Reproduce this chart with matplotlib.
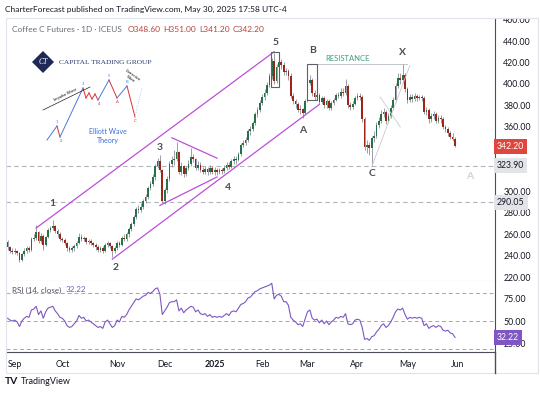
import numpy as np
import pandas as pd
import matplotlib
matplotlib.use('Agg')
import matplotlib.pyplot as plt
import matplotlib.transforms as mtransforms
from matplotlib.patches import Rectangle, Polygon

plt.rcParams['font.family'] = ['Lato', 'DejaVu Sans']

# Coffee C daily candles, 28 Aug 2024 -> 30 May 2025 (open = previous close)
first_open = 253.0
close = [
    248, 245, 244, 245, 243, 236, 242, 245, 247, 246,
    256, 257, 262, 254, 259, 250, 258, 264, 266, 268,
    263, 260, 256, 255, 252, 247, 246, 247, 249, 252,
    258, 256, 257, 253, 254, 252, 250, 248, 246, 247,
    245, 250, 252, 249, 245, 247, 252, 250, 257, 256,
    260, 265, 270, 276, 284, 283, 286, 291, 295, 303,
    307, 313, 324, 328, 320, 291, 301, 312, 326, 329,
    330, 337, 318, 324, 316, 322, 326, 332, 330, 322,
    325, 320, 318, 321, 318, 322, 318, 320, 318, 320,
    319, 322, 325, 323, 328, 330, 329, 335, 343, 345,
    348, 356, 358, 364, 372, 376, 382, 388, 392, 399,
    407, 421, 403, 416, 420, 418, 411, 412, 407, 389,
    384, 381, 376, 377, 373, 384, 401, 404, 392, 388,
    390, 383, 387, 380, 384, 378, 382, 385, 390, 389,
    393, 392, 398, 380, 379, 381, 387, 389, 388, 367,
    341, 343, 340, 350, 352, 362, 366, 372, 374, 366,
    370, 378, 385, 398, 406, 404, 408, 395, 385, 388,
    386, 389, 387, 388, 387, 374, 376, 367, 370, 372,
    366, 368, 367, 360, 358, 354, 351, 348.6, 342.2]
high = [
    255, 249, 247, 247, 246, 244, 243, 247, 249, 249,
    258, 260, 269, 263, 261, 260, 259, 266, 268, 273,
    269, 265, 262, 258, 257, 253, 249, 249, 251, 254,
    261, 260, 259, 258, 256, 256, 253, 252, 250, 249,
    249, 252, 254, 253, 250, 249, 254, 254, 259, 260,
    262, 267, 272, 278, 286, 287, 289, 293, 298, 305,
    310, 316, 326, 331, 334, 321, 303, 314, 328, 333,
    339, 346, 338, 327, 325, 324, 329, 340, 335, 331,
    328, 327, 323, 324, 323, 325, 324, 323, 322, 322,
    322, 325, 327, 327, 330, 333, 333, 337, 345, 348,
    351, 358, 361, 366, 374, 379, 385, 391, 395, 402,
    410, 424, 429, 419, 423, 423, 420, 415, 414, 410,
    392, 386, 383, 380, 378, 386, 403, 408, 406, 394,
    393, 392, 389, 389, 386, 386, 384, 387, 392, 393,
    396, 396, 405, 400, 383, 384, 389, 392, 392, 390,
    369, 348, 346, 352, 356, 365, 369, 376, 378, 376,
    373, 380, 388, 401, 410, 410, 419, 410, 397, 391,
    391, 392, 391, 390, 390, 389, 379, 378, 373, 375,
    374, 371, 371, 369, 362, 360, 356, 354, 351]
low = [
    246, 243, 242, 242, 241, 234, 235, 240, 243, 244,
    245, 254, 255, 252, 252, 246, 249, 257, 262, 264,
    261, 258, 254, 253, 250, 245, 244, 244, 245, 247,
    251, 254, 254, 251, 251, 250, 248, 246, 244, 244,
    243, 244, 248, 247, 239, 243, 246, 248, 249, 254,
    254, 258, 263, 268, 274, 280, 281, 284, 289, 293,
    301, 305, 311, 322, 318, 289, 288, 299, 310, 323,
    325, 328, 316, 315, 313, 314, 320, 324, 327, 320,
    320, 318, 316, 316, 315, 316, 316, 315, 315, 316,
    316, 317, 320, 321, 322, 326, 326, 328, 333, 341,
    343, 346, 353, 356, 362, 369, 374, 380, 385, 390,
    397, 405, 400, 401, 412, 414, 408, 408, 404, 387,
    381, 378, 374, 372, 368, 372, 383, 399, 389, 385,
    385, 381, 381, 378, 378, 376, 376, 380, 384, 387,
    387, 389, 390, 378, 376, 377, 380, 385, 385, 365,
    339, 336, 334, 323.9, 346, 350, 359, 364, 369, 363,
    364, 368, 376, 383, 396, 400, 401, 393, 382, 383,
    383, 384, 384, 385, 384, 372, 371, 364, 365, 367,
    364, 364, 364, 358, 355, 352, 349, 347, 341.2]
rsi = [
    53, 51, 50, 51, 49, 44, 50, 53, 55, 54,
    62, 63, 66, 57, 61, 53, 60, 64, 65, 66,
    61, 58, 54, 53, 50, 45, 43, 44, 47, 50,
    56, 53, 54, 50, 51, 49, 47, 45, 43, 44,
    42, 49, 51, 47, 43, 45, 51, 49, 55, 54,
    57, 62, 66, 70, 74, 73, 75, 77, 78, 81,
    80, 82, 85, 86, 79, 57, 61, 65, 70, 71,
    71, 73, 61, 64, 59, 62, 64, 66, 65, 60,
    62, 58, 57, 58, 55, 57, 54, 55, 54, 55,
    54, 56, 58, 56, 60, 61, 60, 64, 68, 69,
    71, 75, 76, 79, 82, 83, 85, 86, 87, 88,
    89, 91, 74, 78, 79, 77, 71, 71, 67, 54,
    51, 49, 46, 47, 44, 52, 60, 62, 53, 51,
    52, 48, 51, 47, 50, 46, 49, 51, 54, 53,
    55, 54, 58, 47, 46, 47, 51, 52, 51, 43,
    30, 31, 29, 33, 34, 38, 41, 45, 47, 43,
    45, 49, 54, 60, 63, 62, 64, 57, 52, 54,
    53, 54, 53, 54, 53, 45, 47, 42, 44, 45,
    43, 45, 44, 40, 39, 40, 37, 36, 32.22]

holidays = ['2024-09-02', '2024-11-28', '2024-12-25', '2025-01-01', '2025-01-09',
            '2025-01-20', '2025-02-17', '2025-04-18', '2025-05-26']
month_names = ['Sep', 'Oct', 'Nov', 'Dec', '2025', 'Feb', 'Mar', 'Apr', 'May', 'Jun']
# 320 and 340 sit under the price tags, so they are left out
price_ticks = [220, 240, 260, 280, 300, 360, 380, 400, 420, 440, 460]
rsi_ticks = [25, 50, 75]
rsi_bands = [20, 50, 80]
levels = [323.90, 290.05]
last_close = 342.20
last_rsi = 32.22

# elliott wave count (bar index, price)
wave_text = ['1', '2', '3', '4', '5', 'A', 'B', 'C', 'X']
wave_bar = [18.7, 45.2, 64, 92.6, 112.8, 124, 128.3, 153, 166]
wave_price = [289, 229, 341, 304, 439, 357, 431.5, 317, 429]

# drawings (bar index, price)
channel_top = [(12, 266), (112, 430)]
channel_bot = [(44, 237), (131, 381)]
tri_top = [(69, 350), (88, 331)]
tri_bot = [(64, 287), (88, 313.5)]
box_5 = [(110.6, 397), (114, 430)]
box_b = [(125.8, 385), (130, 418.6)]
resist = [(130, 418.6), (168, 418.6)]
cross_1 = [(153, 323), (169, 417)]
cross_2 = [(156.5, 388), (165, 360)]

green = '#27704a'
red = '#9c2518'
violet = '#bd4fd8'

# dates -> bar positions for the month labels
dates = pd.bdate_range('2024-08-28', '2025-05-30')
dates = dates[~dates.isin(pd.to_datetime(holidays))]
n = min(len(dates), len(close))
months = dates.to_period('M')
tick_pos = [i for i in range(1, len(dates)) if months[i] != months[i-1]] + [len(dates)]

c = np.array(close[:n], dtype=float)
o = np.array([first_open] + close[:n-1], dtype=float)
h = np.maximum(np.array(high[:n], dtype=float), np.maximum(o, c))
l = np.minimum(np.array(low[:n], dtype=float), np.minimum(o, c))
idx = np.arange(n)
up = c >= o

fig = plt.figure(figsize=(5.4, 3.95), dpi=100)
ax = fig.add_axes([6/540, 1-281/395, 489/540, 263/395])
ax2 = fig.add_axes([6/540, 1-352/395, 489/540, 71/395], sharex=ax)

# candles
ax.vlines(idx, l, h, color='#8c8f99', lw=0.6, zorder=2)
body = np.where(np.abs(c-o) < 0.8, 0.8, c-o)
ax.bar(idx[up], body[up], bottom=o[up], width=0.72, color=green, zorder=3)
ax.bar(idx[~up], (c-o)[~up], bottom=o[~up], width=0.72, color=red, zorder=3)

for lv in levels:
    ax.axhline(lv, color='#b2b5be', ls=(0, (4, 3)), lw=0.8, zorder=1)

for seg in [channel_top, channel_bot, tri_top, tri_bot]:
    ax.plot([seg[0][0], seg[1][0]], [seg[0][1], seg[1][1]], color=violet, lw=0.9, zorder=4)
for seg in [cross_1, cross_2]:
    ax.plot([seg[0][0], seg[1][0]], [seg[0][1], seg[1][1]], color='#c8cad0', lw=0.6, zorder=4)
ax.plot([resist[0][0], resist[1][0]], [resist[0][1], resist[1][1]], color='#b8bbc3', lw=0.6, zorder=4)
ax.text(143, 424, 'RESISTANCE', color='#3f9e7a', fontsize=5.5, ha='center', va='center')
for bx in [box_5, box_b]:
    ax.add_patch(Rectangle(bx[0], bx[1][0]-bx[0][0], bx[1][1]-bx[0][1],
                           fill=False, ec='#5d606b', lw=0.8, zorder=5))

for t, xb, yp in zip(wave_text, wave_bar, wave_price):
    ax.text(xb, yp, t, fontsize=7.5, fontweight='bold', color='#4a4d57', ha='center', va='center')
ax.text(194.3, 313.5, 'A', fontsize=7.5, fontweight='bold', color='#d0d3da', ha='center', va='center')

ax.set_xlim(-0.67, 204.8)
ax.set_ylim(216.7, 461.4)
ax.yaxis.tick_right()
ax.set_yticks(price_ticks)
ax.set_yticklabels(['%.2f' % p for p in price_ticks])
ax.tick_params(axis='y', length=0, pad=6, labelsize=6.3, labelcolor='#131722')
ax.tick_params(axis='x', length=0, labelbottom=False)
# price labels get cut at the pane edges like on the site
pane_clip = mtransforms.TransformedBbox(mtransforms.Bbox.from_extents(0, 114, 540, 377),
                                        mtransforms.IdentityTransform())
for lbl in ax.get_yticklabels():
    lbl.set_clip_box(pane_clip)
    lbl.set_clip_on(True)
for s in ['top', 'left']:
    ax.spines[s].set_visible(False)
ax.spines['right'].set_color('#4a4e59')
ax.spines['bottom'].set_color('#c3c6ce')
ax.spines['bottom'].set_linewidth(0.8)

# RSI pane
ax2.plot(idx, rsi[:n], color='#7e57c2', lw=0.8, zorder=3)
for b in rsi_bands:
    ax2.axhline(b, color='#a3a6af', ls=(0, (4, 3)), lw=0.7, zorder=1)
ax2.set_ylim(16.3, 93.5)
ax2.yaxis.tick_right()
ax2.set_yticks(rsi_ticks)
ax2.set_yticklabels(['%.2f' % r for r in rsi_ticks])
ax2.tick_params(axis='y', length=0, pad=6, labelsize=6.3, labelcolor='#131722')
ax2.set_xticks(tick_pos)
ax2.set_xticklabels(month_names[:len(tick_pos)])
ax2.tick_params(axis='x', length=0, pad=6, labelsize=6.3, labelcolor='#131722')
for lbl in ax2.get_xticklabels():
    if lbl.get_text() == '2025':
        lbl.set_fontweight('bold')
for s in ['top', 'left']:
    ax2.spines[s].set_visible(False)
ax2.spines['right'].set_color('#4a4e59')
ax2.spines['bottom'].set_color('#4a4e59')


def axis_tag(a, y, text, fc, tc):
    tr = mtransforms.blended_transform_factory(a.transAxes, a.transData)
    a.text(1.004, y, text, transform=tr, ha='left', va='center', fontsize=6.3, color=tc,
           bbox=dict(boxstyle='square,pad=0.35', fc=fc, ec='none'), clip_on=False, zorder=20)


axis_tag(ax, last_close, '%.2f' % last_close, '#e0463e', 'white')
axis_tag(ax, levels[0], '%.2f' % levels[0], '#e3e4e8', '#131722')
axis_tag(ax, levels[1], '%.2f' % levels[1], '#e3e4e8', '#131722')
axis_tag(ax2, last_rsi, '%.2f' % last_rsi, '#7e57c2', 'white')

# overlay in pixel units: header, logo inset, footer
ov = fig.add_axes([0, 0, 1, 1], zorder=10)
ov.set_xlim(0, 540)
ov.set_ylim(395, 0)
ov.axis('off')
ov.patch.set_alpha(0)
ov.add_patch(Rectangle((6, 18), 532, 355, fill=False, ec='#e0e3eb', lw=0.8))
ov.plot([495, 495], [352, 373], color='#4a4e59', lw=1)

ov.text(5, 9, 'CharterForecast published on TradingView.com, May 30, 2025 17:58 UTC-4',
        fontsize=6, color='#131722', va='center')
ov.text(12, 29, 'Coffee C Futures \u00b7 1D \u00b7 ICEUS', fontsize=6, color='#6a6d78', va='center')
for xx, tt in zip([128, 163, 199, 233], ['O348.60', 'H351.00', 'L341.20', 'C342.20']):
    ov.text(xx, 29, tt, fontsize=6, color='#b8433a', va='center')
ov.text(12, 290, 'RSI (14, close)', fontsize=5.8, color='#50535e', va='center')
ov.text(66, 290, '32.22', fontsize=5.8, color='#7e57c2', va='center')

# logo
ov.add_patch(Polygon([(43, 51), (54, 62), (43, 73), (32, 62)], closed=True, fc='#1e2a55', ec='none'))
ov.text(43, 62.5, 'CT', fontsize=5.5, color='white', ha='center', va='center',
        family=['Liberation Serif', 'DejaVu Serif'], style='italic')
ov.text(59, 62, 'CAPITAL TRADING GROUP', fontsize=5.4, color='#2a3a6e', va='center',
        family=['Liberation Serif', 'DejaVu Serif'])

# small elliott wave sketch
ew_x = [47, 57, 60, 83, 86, 89, 92, 95, 98, 109, 117, 127, 135, 142]
ew_y = [140, 126, 137, 88, 98, 93, 99, 94, 100, 80, 98, 86, 117, 88]
ew_col = ['#4a78e0', '#e03030', '#4a78e0', '#e03030', '#e03030', '#e03030', '#e03030',
          '#e03030', '#4a78e0', '#e03030', '#4a78e0', '#e03030']
for k in range(len(ew_col)):
    ov.plot(ew_x[k:k+2], ew_y[k:k+2], color=ew_col[k], lw=0.7)
ov.plot(ew_x[-2:], ew_y[-2:], color='#9fb8ee', lw=0.6, ls=':')
for t, xx, yy, cc in zip(['1', '2', '3', '4', '5', 'A', 'B', 'C'],
                         [57, 61, 83, 99, 109, 117, 127, 135],
                         [122, 141, 84, 104, 76, 102, 82, 121],
                         ['#4a78e0', '#e03030'] * 4):
    ov.text(xx, yy, t, fontsize=3, color=cc, ha='center', va='center')
ov.plot([43, 90], [110, 87], color='#222222', lw=0.5)
ov.text(65, 95, 'Impulse Wave', fontsize=3, rotation=26, ha='center', va='center')
ov.text(132, 77, 'Corrective\nWave', fontsize=2.8, rotation=-35, ha='center', va='center', linespacing=1)
ov.text(108, 131, 'Elliott Wave', fontsize=5, color='#3d6fd8', ha='center', va='center')
ov.text(108, 141, 'Theory', fontsize=5, color='#3d6fd8', ha='center', va='center')

# footer
ov.text(5, 382, 'TV', fontsize=7.5, fontweight='bold', color='#131722', va='center')
ov.text(21, 382, 'TradingView', fontsize=6.5, color='#131722', va='center')

fig.savefig('out.png', dpi=100)
